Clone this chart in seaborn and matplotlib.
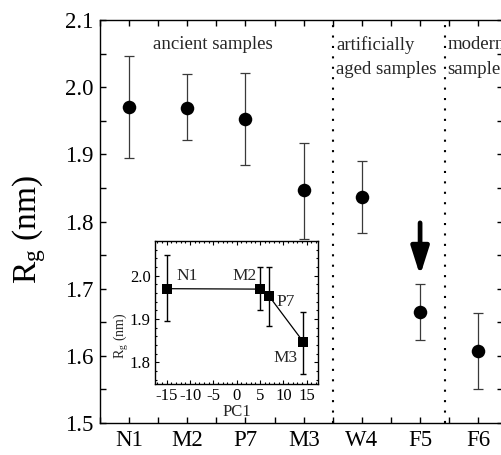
import matplotlib.pyplot as plt
import numpy as np
import pandas as pd
import seaborn as sns
from matplotlib.ticker import FormatStrFormatter, MultipleLocator

# radius of gyration per sample, with error bar ends
samples = ["N1", "M2", "P7", "M3", "W4", "F5", "F6"]
rg = [1.970, 1.969, 1.952, 1.847, 1.836, 1.665, 1.607]
rg_low = [1.895, 1.921, 1.884, 1.774, 1.783, 1.624, 1.551]
rg_high = [2.047, 2.019, 2.021, 1.917, 1.890, 1.707, 1.664]

# inset: ancient samples against PC1
inset_samples = ["N1", "M2", "P7", "M3"]
pc1 = [-15.0, 5.0, 7.0, 14.3]

group_bounds = [3.5, 5.42]

sns.set_theme(style="ticks")
plt.rcParams["font.family"] = ["Liberation Serif", "DejaVu Serif"]
plt.rcParams["mathtext.default"] = "regular"
plt.rcParams["axes.unicode_minus"] = False

df = pd.DataFrame({"sample": samples, "rg": rg, "low": rg_low, "high": rg_high})
df["pos"] = np.arange(len(df))
ins = df[df["sample"].isin(inset_samples)].copy()
ins["pc1"] = pc1

fig = plt.figure(figsize=(5.01, 4.55), dpi=100)
ax = fig.add_axes([0.1996, 0.0703, 0.805, 0.8857])

ax.errorbar(df["pos"], df["rg"], yerr=[df["rg"] - df["low"], df["high"] - df["rg"]],
            fmt="none", ecolor="#3a3a3a", elinewidth=0.9, capsize=3.3, capthick=0.9, zorder=2)
sns.scatterplot(data=df, x="pos", y="rg", s=95, color="black", linewidth=0,
                ax=ax, zorder=3, legend=False)

for b in group_bounds:
    ax.axvline(b, color="black", lw=1.5, linestyle=(0, (1, 4)), zorder=1)

ax.set_xlim(-0.5, 6.43)
ax.set_ylim(1.5, 2.1)
ax.set_xticks(df["pos"], samples)
ax.xaxis.set_minor_locator(MultipleLocator(0.5))
ax.yaxis.set_major_locator(MultipleLocator(0.1))
ax.yaxis.set_minor_locator(MultipleLocator(0.05))
ax.yaxis.set_major_formatter(FormatStrFormatter("%.1f"))
ax.tick_params(which="both", direction="in", top=True, right=True, length=4.5,
               width=1, color="black", labelsize=16.5, labelcolor="black", pad=5)
for s in ax.spines.values():
    s.set_color("black")
    s.set_linewidth(1.0)
ax.set_xlabel("")
ax.set_ylabel(r"R$_{g}$ (nm)", fontsize=24, color="black")
ax.yaxis.set_label_coords(-0.13, 0.48)

ax.text(1.44, 2.063, "ancient samples", fontsize=13.5, ha="center", va="center")
ax.text(3.56, 2.063, "artificially", fontsize=13.5, ha="left", va="center")
ax.text(3.56, 2.026, "aged samples", fontsize=13.5, ha="left", va="center")
ax.text(5.47, 2.063, "modern", fontsize=13.5, ha="left", va="center")
ax.text(5.47, 2.026, "samples", fontsize=13.5, ha="left", va="center")

ax.annotate("", xy=(5, 1.7195), xytext=(5, 1.798),
            arrowprops=dict(arrowstyle="-|>,head_width=0.27,head_length=0.85",
                            mutation_scale=20, lw=3.4, color="black",
                            shrinkA=0, shrinkB=0))

# inset
axi = fig.add_axes([0.3094, 0.156, 0.326, 0.3143])
axi.errorbar(ins["pc1"], ins["rg"], yerr=[ins["rg"] - ins["low"], ins["high"] - ins["rg"]],
             fmt="none", ecolor="black", elinewidth=1.0, capsize=2.5, capthick=1.0, zorder=2)
sns.lineplot(data=ins, x="pc1", y="rg", color="black", lw=0.9, marker="s",
             markersize=6.5, markeredgewidth=0, sort=False, ax=axi, zorder=3)
axi.set_xlim(-17.5, 17.5)
axi.set_ylim(1.75, 2.08)
axi.xaxis.set_major_locator(MultipleLocator(5))
axi.xaxis.set_minor_locator(MultipleLocator(1))
axi.yaxis.set_major_locator(MultipleLocator(0.1))
axi.yaxis.set_minor_locator(MultipleLocator(0.02))
axi.yaxis.set_major_formatter(FormatStrFormatter("%.1f"))
axi.tick_params(which="both", direction="in", top=True, right=True, width=0.8,
                color="black", labelsize=12, labelcolor="black", pad=3)
axi.tick_params(which="major", length=3)
axi.tick_params(which="minor", length=1.5)
for s in axi.spines.values():
    s.set_color("black")
    s.set_linewidth(1.0)
axi.set_xlabel("PC1", fontsize=12, labelpad=0)
axi.set_ylabel(r"R$_{g}$ (nm)", fontsize=10)
axi.yaxis.set_label_coords(-0.15, 0.34)

axi.text(-13.0, 2.0, "N1", fontsize=12.5, ha="left", va="center")
axi.text(4.3, 2.0, "M2", fontsize=12.5, ha="right", va="center")
axi.text(8.6, 1.94, "P7", fontsize=12.5, ha="left", va="center")
axi.text(13.0, 1.81, "M3", fontsize=12.5, ha="right", va="center")

fig.savefig("out.png", dpi=100)
